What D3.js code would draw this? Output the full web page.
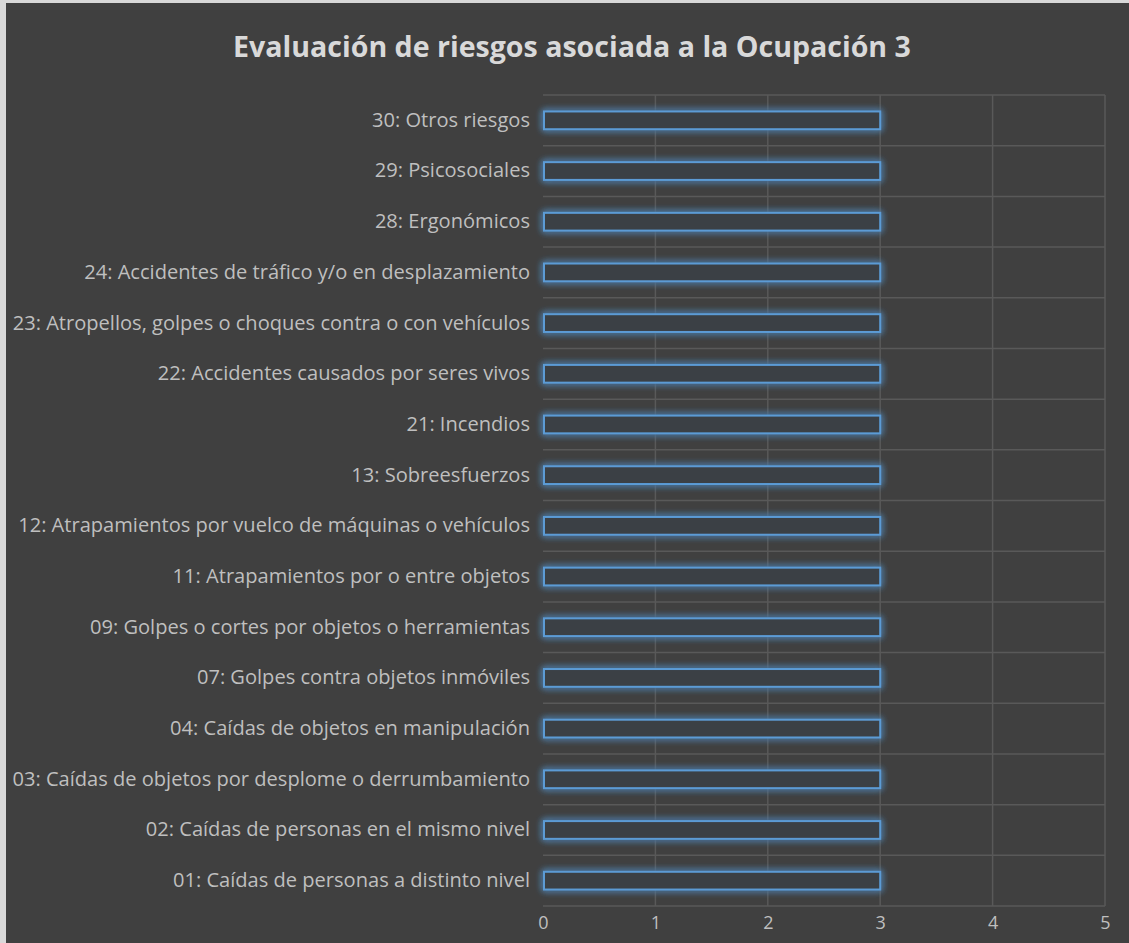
<!DOCTYPE html>
<html><head><meta charset="utf-8">
<script src="https://cdn.jsdelivr.net/npm/d3@7"></script>
<style>html,body{margin:0;padding:0;background:#d9d9d9;}svg{display:block;}</style>
</head><body>
<script>
const categories = [
  "30: Otros riesgos",
  "29: Psicosociales",
  "28: Ergonómicos",
  "24: Accidentes de tráfico y/o en desplazamiento",
  "23: Atropellos, golpes o choques contra o con vehículos",
  "22: Accidentes causados por seres vivos",
  "21: Incendios",
  "13: Sobreesfuerzos",
  "12: Atrapamientos por vuelco de máquinas o vehículos",
  "11: Atrapamientos por o entre objetos",
  "09: Golpes o cortes por objetos o herramientas",
  "07: Golpes contra objetos inmóviles",
  "04: Caídas de objetos en manipulación",
  "03: Caídas de objetos por desplome o derrumbamiento",
  "02: Caídas de personas en el mismo nivel",
  "01: Caídas de personas a distinto nivel"
];
const values = [3,3,3,3,3,3,3,3,3,3,3,3,3,3,3,3];
const xTicks = [0,1,2,3,4,5];
const title = "Evaluación de riesgos asociada a la Ocupación 3";

const W = 1129, H = 943;
const svg = d3.select("body").append("svg").attr("width", W).attr("height", H);
svg.append("rect").attr("x",6).attr("y",3).attr("width",W-6).attr("height",H-3).attr("fill","#404040");

const defs = svg.append("defs");
const f = defs.append("filter").attr("id","glow").attr("x","-5%").attr("y","-60%").attr("width","110%").attr("height","220%");
f.append("feGaussianBlur").attr("in","SourceGraphic").attr("stdDeviation",3.5).attr("result","b");
f.append("feMerge").selectAll("feMergeNode").data(["b","b","SourceGraphic"]).join("feMergeNode").attr("in",d=>d);

const x = d3.scaleLinear().domain([0,5]).range([543,1105]);
const y = d3.scaleBand().domain(categories).range([95,906]).paddingInner(0.65).paddingOuter(0.325);
const yg = d3.scaleBand().domain(categories).range([95,906]);

const font = "'Open Sans', 'Noto Sans', sans-serif";

// grid
const g = svg.append("g");
g.selectAll("line.v").data(xTicks.filter(d=>d>0)).join("line")
  .attr("x1",d=>x(d)).attr("x2",d=>x(d)).attr("y1",95).attr("y2",906)
  .attr("stroke","#595959").attr("stroke-width",1.5);
g.selectAll("line.h").data(categories.concat(["__end"])).join("line")
  .attr("x1",x(0)).attr("x2",x(5))
  .attr("y1",(d,i)=> i<categories.length ? yg(d) : 906)
  .attr("y2",(d,i)=> i<categories.length ? yg(d) : 906)
  .attr("stroke","#595959").attr("stroke-width",1.5);

// bars
svg.append("g").selectAll("rect").data(categories).join("rect")
  .attr("x",x(0)+1).attr("y",d=>y(d))
  .attr("width",(d,i)=>x(values[i])-x(0)-1).attr("height",y.bandwidth())
  .attr("fill","#3b3f44").attr("stroke","#5b9bd5").attr("stroke-width",2)
  .attr("filter","url(#glow)");

// x axis
const xa = svg.append("g").attr("transform","translate(0,906)")
  .attr("font-size",18).attr("font-family",font)
  .call(d3.axisBottom(x).tickValues(xTicks).tickSize(0).tickPadding(10).tickFormat(d3.format("d")));
xa.select(".domain").remove();
xa.selectAll("text").attr("fill","#bfbfbf").style("font-family",font).style("font-size","18px");

// y axis
const ya = svg.append("g").attr("transform",`translate(${x(0)},0)`)
  .call(d3.axisLeft(y).tickSize(0).tickPadding(13));
ya.select(".domain").remove();
ya.selectAll("text").attr("fill","#bfbfbf").style("font-family",font).style("font-size","15px");
// fit longest label width
let maxW = 0; ya.selectAll("text").each(function(){maxW=Math.max(maxW,this.getComputedTextLength());});
const fs = 15*518/maxW;
ya.selectAll("text").style("font-size",fs+"px");

// title
const t = svg.append("text").attr("x",572).attr("y",57).attr("text-anchor","middle")
  .attr("fill","#d9d9d9").style("font-family",font).style("font-weight","bold").style("font-size","24px").text(title);
const tw = t.node().getComputedTextLength();
t.style("font-size",(24*678/tw)+"px");
</script>
</body></html>
